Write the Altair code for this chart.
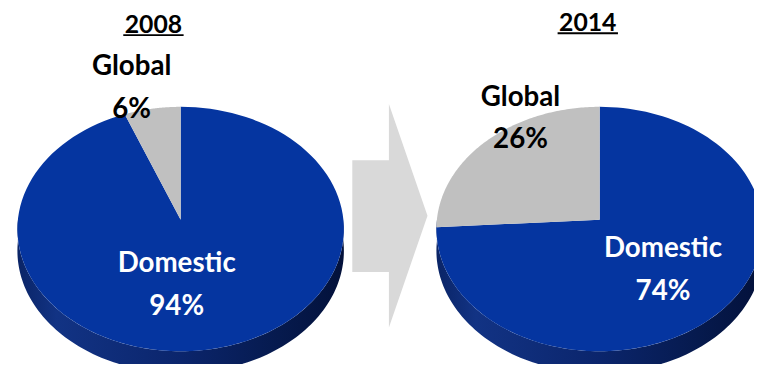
import altair as alt
import pandas as pd

# ---------------- data ----------------
YEARS = ["2008", "2014"]
CATEGORIES = ["Domestic", "Global"]
DOMESTIC = [94, 74]
GLOBAL = [6, 26]

# ---------------- layout / style ----------------
W, H = 754, 356            # plot area (page coords 8..762, 8..364)
X0, Y0 = 8, 8
CENTER_X = {"2008": 182.5, "2014": 606.0}
APEX_Y = 220.0
RX, RY, PERSP = 164.5, 122.8, 0.077
DEPTH = 22
N = 120
FONT = "Lato"
BLUE = "#0535a0"
GRAY = "#c0c0c0"
ARROW_GRAY = "#d9d9d9"
LABEL_POS = {("2008", "Global"): (133, 74), ("2008", "Domestic"): (178.5, 273),
             ("2014", "Global"): (526, 105), ("2014", "Domestic"): (670, 258)}
LINE_GAP = 43
TITLE_POS = {"2008": (155, 31), "2014": (594, 29)}
TITLE_HALF = 30.5
ARROW_X = [356, 393, 393, 432, 393, 393, 356]
ARROW_Y = [160, 160, 103, 216, 329, 273, 273]

rows = []
for i, yr in enumerate(YEARS):
    rows.append({"year": yr, "category": "Domestic", "share": DOMESTIC[i], "rank": 0})
    rows.append({"year": yr, "category": "Global", "share": GLOBAL[i], "rank": 1})
df = pd.DataFrame(rows)

xs = alt.Scale(domain=[X0, X0 + W], nice=False, zero=False)
ys = alt.Scale(domain=[Y0, Y0 + H], nice=False, zero=False, reverse=True)

cx_expr = f"datum.year == '2008' ? {CENTER_X['2008']} : {CENTER_X['2014']}"

# --- pie slices (perspective ellipse) ---
slices = (
    alt.Chart(df)
    .transform_window(cum="sum(share)", groupby=["year"], sort=[alt.SortField("rank")], frame=[None, 0])
    .transform_calculate(t0="2*PI*(datum.cum - datum.share)/100")
    .transform_calculate(t1="2*PI*datum.cum/100")
    .transform_calculate(step=f"sequence(-1, {N + 1})")
    .transform_flatten(["step"])
    .transform_calculate(t=f"datum.t0 + (datum.t1 - datum.t0) * max(datum.step, 0) / {N}")
    .transform_calculate(cx=cx_expr)
    .transform_calculate(k=f"1 + {PERSP} * cos(datum.t)")
    .transform_calculate(px=f"datum.step < 0 ? datum.cx : datum.cx + {RX} * sin(datum.t) / datum.k")
    .transform_calculate(py=f"datum.step < 0 ? {APEX_Y} : {APEX_Y} - {RY} * cos(datum.t) / datum.k")
    .transform_calculate(key="datum.year + '-' + datum.category")
)
enc = dict(
    x=alt.X("px:Q", scale=xs, axis=None),
    y=alt.Y("py:Q", scale=ys, axis=None),
    order=alt.Order("step:Q"),
    detail="key:N",
)
dom_face = slices.transform_filter("datum.category == 'Domestic'").mark_line(
    fill=BLUE, strokeWidth=0
).encode(**enc)
glob_face = slices.transform_filter("datum.category == 'Global'").mark_line(
    fill=GRAY, strokeWidth=0
).encode(**enc)

# --- 3D side wall ---
side = (
    alt.Chart(pd.DataFrame({"year": YEARS}))
    .transform_calculate(step=f"sequence(0, {2 * N + 2})")
    .transform_flatten(["step"])
    .transform_calculate(
        t=f"datum.step <= {N} ? PI/2 + PI*datum.step/{N} : 3*PI/2 - PI*(datum.step - {N} - 1)/{N}"
    )
    .transform_calculate(dy=f"datum.step <= {N} ? 0 : {DEPTH}")
    .transform_calculate(cx=cx_expr)
    .transform_calculate(k=f"1 + {PERSP} * cos(datum.t)")
    .transform_calculate(px=f"datum.cx + {RX} * sin(datum.t) / datum.k")
    .transform_calculate(py=f"{APEX_Y} - {RY} * cos(datum.t) / datum.k + datum.dy")
    .mark_line(
        fill=alt.Gradient(
            gradient="linear", x1=0, x2=1, y1=0, y2=0,
            stops=[
                alt.GradientStop(color="#0a2466", offset=0),
                alt.GradientStop(color="#123384", offset=0.12),
                alt.GradientStop(color="#0b256c", offset=0.5),
                alt.GradientStop(color="#061a4e", offset=0.8),
                alt.GradientStop(color="#03113a", offset=1),
            ],
        ),
        strokeWidth=0,
    )
    .encode(
        x=alt.X("px:Q", scale=xs, axis=None),
        y=alt.Y("py:Q", scale=ys, axis=None),
        order=alt.Order("step:Q"),
        detail="year:N",
    )
)

# --- arrow ---
arrow = (
    alt.Chart(pd.DataFrame({"ax": ARROW_X, "ay": ARROW_Y, "i": list(range(len(ARROW_X)))}))
    .mark_line(fill=ARROW_GRAY, strokeWidth=0)
    .encode(
        x=alt.X("ax:Q", scale=xs, axis=None),
        y=alt.Y("ay:Q", scale=ys, axis=None),
        order=alt.Order("i:Q"),
    )
)

# --- labels ---
lab_rows = []
for i, yr in enumerate(YEARS):
    for cat, vals in (("Domestic", DOMESTIC), ("Global", GLOBAL)):
        lx, ly = LABEL_POS[(yr, cat)]
        lab_rows.append({"category": cat, "text": cat, "lx": lx, "ly": ly})
        lab_rows.append({"category": cat, "text": f"{vals[i]}%", "lx": lx, "ly": ly + LINE_GAP})
labels = (
    alt.Chart(pd.DataFrame(lab_rows))
    .mark_text(font=FONT, fontWeight="bold", fontSize=28, align="center", baseline="alphabetic")
    .encode(
        x=alt.X("lx:Q", scale=xs, axis=None),
        y=alt.Y("ly:Q", scale=ys, axis=None),
        text="text:N",
        color=alt.Color("category:N", scale=alt.Scale(domain=CATEGORIES, range=["#ffffff", "#000000"]), legend=None),
    )
)

# --- titles ---
tdf = pd.DataFrame({
    "title": YEARS,
    "tx": [TITLE_POS[y][0] for y in YEARS],
    "ty": [TITLE_POS[y][1] for y in YEARS],
})
tdf["ux1"] = tdf["tx"] - TITLE_HALF
tdf["ux2"] = tdf["tx"] + TITLE_HALF
tdf["uy"] = tdf["ty"] + 2.5
titles = alt.Chart(tdf).mark_text(
    font=FONT, fontWeight="bold", fontSize=25, align="center", baseline="alphabetic", color="#000000"
).encode(
    x=alt.X("tx:Q", scale=xs, axis=None),
    y=alt.Y("ty:Q", scale=ys, axis=None),
    text="title:N",
)
underline = alt.Chart(tdf).mark_rule(color="#000000", strokeWidth=2).encode(
    x=alt.X("ux1:Q", scale=xs, axis=None),
    x2="ux2:Q",
    y=alt.Y("uy:Q", scale=ys, axis=None),
)

chart = (
    alt.layer(arrow, side, dom_face, glob_face, labels, titles, underline)
    .properties(
        width=W, height=H, padding=0, background="#ffffff",
        autosize=alt.AutoSizeParams(type="none"),
    )
    .configure_view(stroke=None)
)

chart.save("out.html", embed_options={"renderer": "svg", "actions": False})
